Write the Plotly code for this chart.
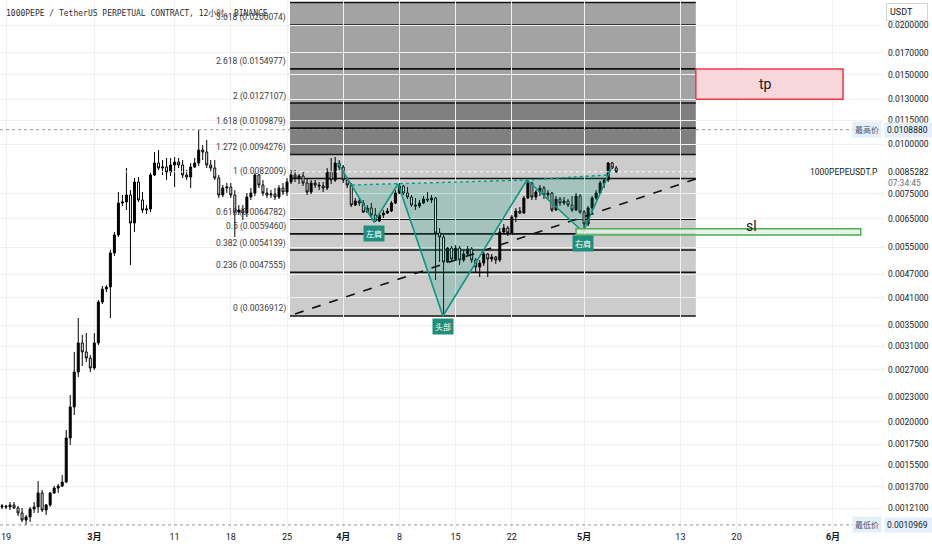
import numpy as np
import pandas as pd
import plotly.graph_objects as go

# ---------------- candle data: 12h candles starting 2024-02-18 12:00 ----------------
candle_start = "2024-02-18 12:00"
opens = [
    .001218, .001225, .001218, .001232, .001211, .001176, .001129, .001149, .001203, .001218,
    .001321, .001196, .001232, .001321, .001359, .001375, .001407, .001818, .002176, .002666,
    .003156, .002995, .002892, .002729, .003156, .004003, .004317, .004368, .005321, .005907,
    .007114, .007156, .007452, .006334, .008036, .007239, .006830, .006871, .008370, .008974,
    .008717, .008768, .008517, .008870, .009027, .008870, .008370, .008273, .008768, .008974,
    .009678, .009566, .008870, .008717, .008225, .007452, .007762, .007807, .007452, .006751,
    .006830, .006712, .007366, .007540, .008370, .007898, .007540, .007452, .007496, .007366,
    .007762, .007583, .008036, .008370, .008225, .008322, .007990, .007583, .007990, .007898,
    .007852, .007762, .008517, .008130, .008974, .008768, .008130, .007898, .007032, .007197,
    .007114, .006751, .006911, .006635, .006408, .006635, .006712, .006791, .007114, .007540,
    .007852, .007540, .007366, .007032, .006991, .007114, .007281, .007239, .007324, .005976,
    .005839, .005050, .005478, .005139, .005478, .005109, .005290, .005446, .005109, .004906,
    .005021, .005290, .005139, .005199, .005109, .006011, .006152, .005976, .006558, .006791,
    .006712, .007324, .007990, .007366, .007583, .007762, .007452, .007540, .006830, .007281,
    .007114, .007197, .007032, .006830, .007409, .006751, .006297, .006911, .007324, .007540,
    .007990, .008130, .008974, .008717,
]
highs = [
    .001239, .001232, .001253, .001253, .001225, .001211, .001162, .001218, .001253, .001416,
    .001344, .001239, .001329, .001375, .001391, .001466, .001904, .002333, .002995, .003648,
    .003305, .003344, .002943, .003344, .004050, .004393, .004419, .005414, .006011, .007583,
    .007452, .008717, .007672, .008225, .008273, .007583, .007032, .008468, .009566, .009678,
    .009132, .009239, .009239, .009293, .009239, .009132, .008616, .008974, .009239, .010888,
    .009963, .010256, .009132, .009132, .008370, .007898, .007990, .007990, .007672, .007032,
    .007032, .007540, .007762, .008468, .008419, .008130, .007762, .007672, .007762, .007898,
    .007990, .008225, .008616, .008616, .008419, .008517, .008225, .008130, .008130, .008036,
    .008036, .008717, .009239, .009293, .009132, .008870, .008273, .007990, .007324, .007324,
    .007239, .007032, .007114, .006911, .006712, .006830, .006911, .007197, .007672, .007990,
    .007898, .007807, .007452, .007324, .007239, .007409, .007583, .007452, .007366, .006152,
    .005907, .005510, .005542, .005574, .005542, .005414, .005542, .005510, .005169, .005109,
    .005352, .005321, .005290, .005229, .006152, .006297, .006224, .006635, .006911, .006951,
    .007409, .008130, .008036, .007672, .007898, .007852, .007672, .007583, .007409, .007366,
    .007366, .007281, .007409, .007540, .007496, .006830, .006991, .007409, .007672, .008083,
    .008225, .009027, .009027, .008819,
]
lows = [
    .001203, .001203, .001196, .001203, .001155, .001116, .0010969, .001116, .001176, .001176,
    .001182, .001162, .001218, .001313, .001321, .001367, .001399, .001745, .002077, .002590,
    .002761, .002826, .002666, .002697, .003119, .003957, .004243, .003648, .005229, .005839,
    .006991, .006830, .004963, .006011, .007156, .006712, .006674, .006751, .008322, .008616,
    .008370, .008130, .008322, .007807, .008717, .008225, .008130, .007762, .008717, .008819,
    .009132, .008717, .008517, .008130, .007324, .007366, .007540, .007324, .005839, .006635,
    .006445, .006558, .007239, .007409, .007762, .007409, .007324, .007324, .007239, .007281,
    .007452, .007409, .007944, .008036, .007944, .007852, .007452, .007496, .007762, .007672,
    .007583, .007672, .007944, .008036, .008616, .007990, .007762, .006951, .006991, .006991,
    .006712, .006712, .006558, .006371, .006371, .006521, .006674, .006751, .007073, .007496,
    .007452, .007281, .006951, .006830, .006911, .007073, .007156, .007114, .004549, .005050,
    .0036912, .005021, .005050, .005109, .004963, .005050, .005229, .005021, .004766, .004629,
    .004934, .004629, .005050, .004992, .005050, .005942, .005873, .005907, .006371, .006674,
    .006674, .007281, .007239, .007239, .007409, .007281, .007281, .006751, .006791, .006991,
    .007032, .006951, .006751, .006791, .006674, .006011, .006224, .006712, .007239, .007496,
    .007762, .008036, .008668, .008468,
]
closes = [
    .001225, .001218, .001232, .001211, .001176, .001129, .001149, .001203, .001218, .001321,
    .001196, .001232, .001321, .001359, .001375, .001407, .001818, .002176, .002666, .003156,
    .002995, .002892, .002729, .003156, .004003, .004317, .004368, .005321, .005907, .007114,
    .007156, .007452, .006334, .008036, .007239, .006830, .006871, .008370, .008974, .008717,
    .008768, .008517, .008870, .009027, .008870, .008370, .008273, .008768, .008974, .009678,
    .009566, .008870, .008717, .008225, .007452, .007762, .007807, .007452, .006751, .006830,
    .006712, .007366, .007540, .008370, .007898, .007540, .007452, .007496, .007366, .007762,
    .007583, .008036, .008370, .008225, .008322, .007990, .007583, .007990, .007898, .007852,
    .007762, .008517, .008130, .008974, .008768, .008130, .007898, .007032, .007197, .007114,
    .006751, .006911, .006635, .006408, .006635, .006712, .006791, .007114, .007540, .007852,
    .007540, .007366, .007032, .006991, .007114, .007281, .007239, .007324, .005976, .005839,
    .005050, .005478, .005139, .005478, .005109, .005290, .005446, .005109, .004906, .005021,
    .005290, .005139, .005199, .005109, .006011, .006152, .005976, .006558, .006791, .006712,
    .007324, .007990, .007366, .007583, .007762, .007452, .007540, .006830, .007281, .007114,
    .007197, .007032, .006830, .007409, .006751, .006297, .006911, .007324, .007540, .007990,
    .008130, .008974, .008717, .0085282,
]
candle_times = pd.date_range(candle_start, periods=len(closes), freq="12h")

# ---------------- Fibonacci extension ----------------
fib_levels = ["0", "0.236", "0.382", "0.5", "0.618", "1", "1.272", "1.618", "2", "2.618", "3.618", "4.236"]
fib_prices = [0.0036912, 0.0047555, 0.0054139, 0.0059460, 0.0064782, 0.0082009,
              0.0094276, 0.0109879, 0.0127107, 0.0154977, 0.0200074, 0.0227943]
fib_band_colors = ["#cccccc", "#cccccc", "#cccccc", "#cccccc", "#cccccc", "#cccccc",
                   "#808080", "#808080", "#a3a3a3", "#a3a3a3", "#a3a3a3"]
fib_start, fib_end = "2024-03-25 09:00", "2024-05-14 22:00"

# ---------------- head & shoulders ----------------
hs_names = ["", "左肩", "", "头部", "", "右肩", ""]
hs_times = ["2024-03-31 08:00", "2024-04-04 20:00", "2024-04-07 20:00", "2024-04-13 10:00",
            "2024-04-23 21:00", "2024-04-30 21:00", "2024-05-04 11:00"]
hs_prices = [0.008974, 0.006371, 0.007944, 0.0036912, 0.008130, 0.006011, 0.008768]
neck_times = ["2024-04-02 02:00", "2024-04-07 20:00", "2024-04-23 21:00", "2024-05-03 20:00"]
neck_prices = [0.007898, 0.007944, 0.008130, 0.008370]

# ---------------- trend line, boxes ----------------
trend_times = ["2024-03-26 00:00", "2024-05-14 22:00"]
trend_prices = [0.003734, 0.008178]
tp_times = ["2024-05-14 22:00", "2024-06-02 06:00"]
tp_prices = [0.0130, 0.0154977]
tp_label_time = "2024-05-23 14:00"
sl_times = ["2024-04-30 00:00", "2024-06-04 11:00"]
sl_prices = [0.005907, 0.006125]
sl_label_time = "2024-05-21 21:00"

# ---------------- axis ----------------
x_range = ["2024-02-18 06:04", "2024-06-07 05:31"]
x_tick_dates = ["2024-02-19", "2024-03-01", "2024-03-11", "2024-03-18", "2024-03-25", "2024-04-01",
                "2024-04-08", "2024-04-15", "2024-04-22", "2024-05-01", "2024-05-13", "2024-05-20",
                "2024-06-01"]
x_tick_text = ["19", "<b>3月</b>", "11", "18", "25", "<b>4月</b>", "8", "15", "22", "<b>5月</b>",
               "13", "20", "<b>6月</b>"]
y_ticks = [0.02, 0.017, 0.015, 0.013, 0.0115, 0.01, 0.0075, 0.0065, 0.0055, 0.0047, 0.0041,
           0.0035, 0.0031, 0.0027, 0.0023, 0.002, 0.00175, 0.00155, 0.00137, 0.00121]
y_range_prices = [0.00106522, 0.023125]
high_price, low_price, last_price = 0.0108880, 0.0010969, 0.0085282
line_end_time = "2024-06-03 12:00"

fig = go.Figure()

# Fib bands and lines (as shapes beneath the candles)
for i, col in enumerate(fib_band_colors):
    fig.add_shape(type="rect", xref="x", yref="y", x0=fib_start, x1=fib_end,
                  y0=fib_prices[i], y1=fib_prices[i + 1], fillcolor=col,
                  line=dict(width=0), layer="below")
for p in fib_prices:
    fig.add_shape(type="line", xref="x", yref="y", x0=fib_start, x1=fib_end, y0=p, y1=p,
                  line=dict(color="#111111", width=1.6), layer="below")

# H&S fills
teal = "#089981"
polys = [
    ([neck_times[0], hs_times[1], hs_times[2]], [neck_prices[0], hs_prices[1], hs_prices[2]]),
    ([hs_times[2], hs_times[3], hs_times[4]], [hs_prices[2], hs_prices[3], hs_prices[4]]),
    ([hs_times[4], hs_times[5], neck_times[3]], [hs_prices[4], hs_prices[5], neck_prices[3]]),
]
for px_, py_ in polys:
    fig.add_trace(go.Scatter(x=px_ + [px_[0]], y=py_ + [py_[0]], mode="lines", fill="toself",
                             fillcolor="rgba(8,153,129,0.2)", line=dict(width=0), hoverinfo="skip"))

# dashed trend line
fig.add_trace(go.Scatter(x=trend_times, y=trend_prices, mode="lines",
                         line=dict(color="#111111", width=1.6, dash="dash"), hoverinfo="skip"))

# current price line (light dotted)
fig.add_trace(go.Scatter(x=[x_range[0], line_end_time], y=[last_price, last_price], mode="lines",
                         line=dict(color="rgba(255,255,255,0.9)", width=1, dash="dot"), hoverinfo="skip"))
# high / low dotted lines
for p in (high_price, low_price):
    fig.add_trace(go.Scatter(x=[x_range[0], line_end_time], y=[p, p], mode="lines",
                             line=dict(color="#9598a1", width=1, dash="dot"), hoverinfo="skip"))

# candles
fig.add_trace(go.Candlestick(
    x=candle_times, open=opens, high=highs, low=lows, close=closes,
    increasing=dict(line=dict(color="#000000", width=1), fillcolor="#000000"),
    decreasing=dict(line=dict(color="#000000", width=1), fillcolor="#ffffff"),
    whiskerwidth=0, hoverinfo="skip"))

# H&S lines
fig.add_trace(go.Scatter(x=hs_times, y=hs_prices, mode="lines",
                         line=dict(color=teal, width=1.6), hoverinfo="skip"))
fig.add_trace(go.Scatter(x=[neck_times[0], neck_times[2], neck_times[3]],
                         y=[neck_prices[0], neck_prices[2], neck_prices[3]], mode="lines",
                         line=dict(color=teal, width=1.4, dash="dot"), hoverinfo="skip"))

# tp box
fig.add_trace(go.Scatter(x=[tp_times[0], tp_times[1], tp_times[1], tp_times[0], tp_times[0]],
                         y=[tp_prices[0], tp_prices[0], tp_prices[1], tp_prices[1], tp_prices[0]],
                         mode="lines", fill="toself", fillcolor="rgba(248,215,218,1)",
                         line=dict(color="#f23645", width=1.5), hoverinfo="skip"))
# sl box
fig.add_trace(go.Scatter(x=[sl_times[0], sl_times[1], sl_times[1], sl_times[0], sl_times[0]],
                         y=[sl_prices[0], sl_prices[0], sl_prices[1], sl_prices[1], sl_prices[0]],
                         mode="lines", fill="toself", fillcolor="rgba(228,241,229,0.85)",
                         line=dict(color="#4caf50", width=1.5), hoverinfo="skip"))

ann = []
lab_font = dict(family="Roboto, Liberation Sans, Noto Sans CJK SC", size=8.5, color="#3c3c3c")
for lvl, p in zip(fib_levels[:-1], fib_prices[:-1]):
    ann.append(dict(x=fib_start, y=np.log10(p), xref="x", yref="y", text=f"{lvl} ({p:.7f})",
                    showarrow=False, xanchor="right", yanchor="middle", xshift=-2, yshift=7,
                    font=lab_font))
for name, t, p in zip(hs_names, hs_times, hs_prices):
    if name:
        ann.append(dict(x=t, y=np.log10(p), xref="x", yref="y", text=name, showarrow=False,
                        xanchor="center", yanchor="middle", yshift=-11, bgcolor="#1f8f7c",
                        borderpad=2, font=dict(family="Noto Sans CJK SC", size=8, color="white")))
# tp / sl text
ann.append(dict(x=tp_label_time, y=np.log10((tp_prices[0] * tp_prices[1]) ** 0.5), xref="x",
                yref="y", text="tp", showarrow=False,
                font=dict(family="Roboto", size=14, color="#131722")))
ann.append(dict(x=sl_label_time, y=np.log10(sl_prices[1]), xref="x", yref="y", text="sl",
                showarrow=False, yshift=3, font=dict(family="Roboto", size=14, color="#131722")))
# title
ann.append(dict(x=0, y=1, xref="paper", yref="paper", xanchor="left", yanchor="top", xshift=4,
                yshift=-6, showarrow=False,
                text="1000PEPE / TetherUS PERPETUAL CONTRACT, 12小时, BINANCE",
                font=dict(family="DejaVu Sans Mono, Noto Sans CJK SC", size=8, color="#2a2e39")))
# right side labels
axis_font = dict(family="Roboto", size=8.5, color="#131722")
ann.append(dict(x=1, y=np.log10(high_price), xref="paper", yref="y", xanchor="right", xshift=-1,
                text="最高价", showarrow=False, bgcolor="#e3effb", borderpad=2,
                font=dict(family="Noto Sans CJK SC", size=8, color="#50535e")))
ann.append(dict(x=1, y=np.log10(low_price), xref="paper", yref="y", xanchor="right", xshift=-1,
                text="最低价", showarrow=False, bgcolor="#e3effb", borderpad=2,
                font=dict(family="Noto Sans CJK SC", size=8, color="#50535e")))
ann.append(dict(x=1, y=np.log10(high_price), xref="paper", yref="y", xanchor="left", xshift=1,
                text=f"{high_price:.7f}", showarrow=False, bgcolor="#e3effb", borderpad=2,
                width=44, align="left", font=axis_font))
ann.append(dict(x=1, y=np.log10(low_price), xref="paper", yref="y", xanchor="left", xshift=1,
                text=f"{low_price:.7f}", showarrow=False, bgcolor="#e3effb", borderpad=2,
                width=44, align="left", font=axis_font))
ann.append(dict(x=1, y=np.log10(last_price), xref="paper", yref="y", xanchor="left", xshift=3,
                text=f"{last_price:.7f}", showarrow=False, font=axis_font))
ann.append(dict(x=1, y=np.log10(last_price), xref="paper", yref="y", xanchor="left", xshift=3,
                yshift=-11, text="07:34:45", showarrow=False,
                font=dict(family="Roboto", size=8.5, color="#6a6d78")))
ann.append(dict(x=1, y=np.log10(last_price), xref="paper", yref="y", xanchor="right", xshift=-3,
                text="1000PEPEUSDT.P", showarrow=False, font=axis_font))
ann.append(dict(x=1, y=1, xref="paper", yref="paper", xanchor="left", yanchor="top", xshift=3,
                yshift=-3, text="USDT", showarrow=False, bgcolor="white", bordercolor="#d1d4dc",
                borderwidth=1, borderpad=3, width=34, align="left",
                font=dict(family="Roboto", size=9, color="#131722")))

fig.update_layout(
    width=932, height=550, margin=dict(l=0, r=49, t=0, b=20),
    paper_bgcolor="white", plot_bgcolor="white", showlegend=False,
    annotations=ann,
    xaxis=dict(type="date", range=x_range, tickvals=x_tick_dates, ticktext=x_tick_text,
               showgrid=True, gridcolor="#f0f1f3", zeroline=False, showline=False, ticks="",
               rangeslider=dict(visible=False), tickangle=0,
               tickfont=dict(family="Roboto, Noto Sans CJK SC", size=9, color="#131722")),
    yaxis=dict(type="log", side="right", range=list(np.log10(y_range_prices)), tickvals=y_ticks,
               ticktext=[f"{v:.7f}" for v in y_ticks], showgrid=True, gridcolor="#f0f1f3",
               zeroline=False, showline=False, ticks="", ticklabelstandoff=4,
               tickfont=axis_font),
)

fig.write_html("out.html", config={"displayModeBar": False},
               post_script="document.body.style.margin='0';")
